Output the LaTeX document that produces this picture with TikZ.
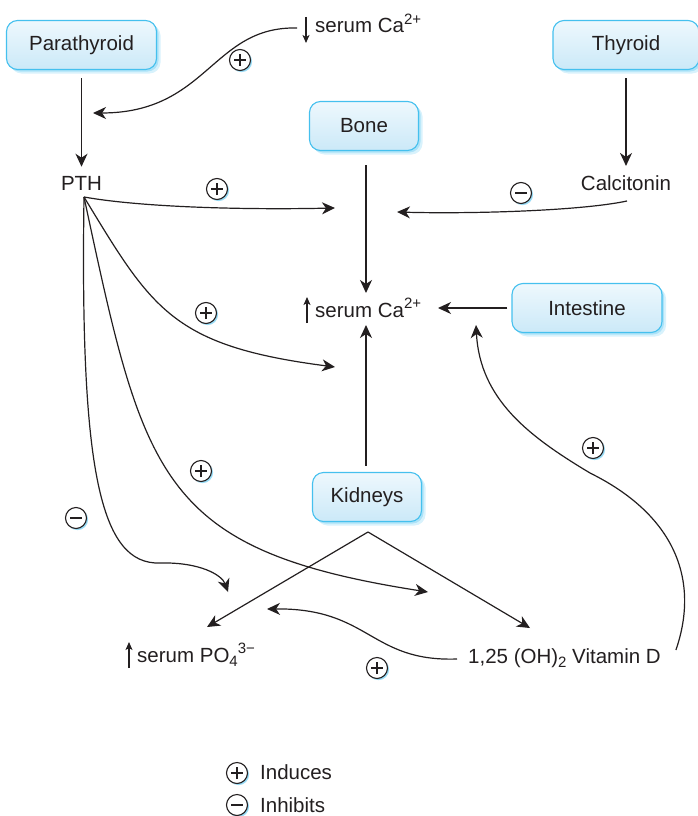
\documentclass[tikz,border=0pt]{standalone}
\usepackage{fontspec}
\setmainfont{Liberation Sans}
\usetikzlibrary{arrows.meta,shadows,calc}

\definecolor{ink}{HTML}{231F20}
\definecolor{boxline}{HTML}{45C0EE}
\definecolor{boxtop}{HTML}{EEF8FD}
\definecolor{boxbot}{HTML}{CBE9F8}
\definecolor{glow}{HTML}{7FD3F4}
\newcommand\lblfont{\fontsize{20.5}{24}\selectfont}
\newcommand\upidx[1]{\raisebox{8.5pt}{\fontsize{15}{15}\selectfont #1}}
\newcommand\lowidx[1]{\raisebox{-4pt}{\fontsize{15}{15}\selectfont #1}}

\begin{document}
\begin{tikzpicture}[x=1pt,y=-1pt,
  organ/.style={draw=boxline, line width=1.1pt, rounded corners=11pt,
    top color=boxtop, bottom color=boxbot, minimum height=49pt,
    text=ink, font=\lblfont, inner sep=0pt,
    drop shadow={shadow xshift=4pt,shadow yshift=-4pt,fill=glow,opacity=.3},
    drop shadow={shadow xshift=2pt,shadow yshift=-2pt,fill=glow,opacity=.5}},
  lbl/.style={font=\lblfont, text=ink, inner sep=0pt, anchor=base west},
  sgn/.style={circle, draw=ink, line width=1.1pt, fill=white,
    minimum size=21pt, inner sep=0pt,
    drop shadow={shadow xshift=1.6pt,shadow yshift=-1.6pt,fill=glow,opacity=.8}},
  plus/.style={sgn, path picture={
    \draw[ink, line width=1.1pt]
      ([xshift=-6pt]path picture bounding box.center) -- ([xshift=6pt]path picture bounding box.center)
      ([yshift=-6pt]path picture bounding box.center) -- ([yshift=6pt]path picture bounding box.center);}},
  minus/.style={sgn, path picture={
    \draw[ink, line width=1.1pt]
      ([xshift=-6pt]path picture bounding box.center) -- ([xshift=6pt]path picture bounding box.center);}},
  arr/.style={draw=ink, line width=1.2pt, -{Stealth[length=13pt,width=12pt,inset=4pt]}},
  tinyarr/.style={draw=ink, line width=1.4pt, -{Stealth[length=8pt,width=7pt,inset=2pt]}},
]
\useasboundingbox (0,0) rectangle (698,816);

% organs
\node[organ, minimum width=150pt] (para)  at (81.5,45) {Parathyroid};
\node[organ, minimum width=146pt] (thy)   at (626,45)  {Thyroid};
\node[organ, minimum width=109pt] (bone)  at (364,126) {Bone};
\node[organ, minimum width=150pt] (intes) at (587,308) {Intestine};
\node[organ, minimum width=109pt] (kid)   at (367,497) {Kidneys};

% hormones and serum levels
\node[lbl, anchor=base] (pth)  at (81.5,190) {PTH};
\node[lbl, anchor=base] (calc) at (626,190)  {Calcitonin};
\node[lbl] (calo) at (315,33)  {serum Ca\upidx{2+}};
\node[lbl] (cahi) at (315,317) {serum Ca\upidx{2+}};
\node[lbl] (po4)  at (137,662) {serum PO\lowidx{4}\upidx{3−}};
\node[lbl] (vitd) at (468,663) {1,25 (OH)\lowidx{2} Vitamin D};

% rise / fall markers in front of the serum levels
\draw[tinyarr] ($(calo.base west)+(-9,-16)$) -- ($(calo.base west)+(-9,10)$);
\draw[tinyarr] ($(cahi.base west)+(-8,6)$) -- ($(cahi.base west)+(-8,-20)$);
\draw[tinyarr] ($(po4.base west)+(-8,6)$) -- ($(po4.base west)+(-8,-20)$);

% connector end points
\coordinate (fan)    at (84,197);
\coordinate (paraIn) at (93,113);
\coordinate (caUL)   at (335,208);
\coordinate (caLL)   at (335,367);
\coordinate (caUR)   at (397,212);
\coordinate (caN)    at (366,293);
\coordinate (caS)    at (366,325);
\coordinate (caE)    at (438,308);
\coordinate (intIn)  at (476,325);
\coordinate (kV)     at (368,532);
\coordinate (poN)    at (207,627);
\coordinate (vdN)    at (530,628);
\coordinate (poA)    at (228,592);
\coordinate (poB)    at (428,592);
\coordinate (poC)    at (267,609);

% straight links
\draw[arr, shorten <=8pt, shorten >=9pt] (para.south) -- (pth.north);
\draw[arr, shorten <=8pt, shorten >=9pt] (thy.south) -- (calc.north);
\draw[arr, shorten <=14pt] (bone.south -| caN) -- (caN);
\draw[arr, shorten <=6pt] (kid.north -| caS) -- (caS);
\draw[arr, shorten <=4pt] (intes.west) -- (caE);
\draw[arr] (kV) -- (poN);
\draw[arr] (kV) -- (vdN);

% curved links
\draw[arr] ($(calo.base west)+(-18,-5)$) .. controls (212,26) and (208,113) .. (paraIn);
\draw[arr] (fan) .. controls (140,207) and (240,210) .. (caUL);
\draw[arr] (fan) .. controls (152,309) and (172,346) .. (caLL);
\draw[arr] (fan) .. controls (144,477) and (158,550) .. (poB);
\draw[arr] (fan) .. controls (80,470) and (100,565) .. (160,563)
                 .. controls (200,562) and (222,575) .. (poA);
\draw[arr] ($(calc.base)+(1,11)$) .. controls (580,211) and (470,214) .. (caUR);
\draw[arr] ($(vitd.base east)+(15,-13)$) .. controls (700,580) and (675,515) .. (590,473)
                 .. controls (530,437) and (480,400) .. (intIn);
\draw[arr] ($(vitd.base west)+(-11,-4)$) .. controls (370,662) and (370,608) .. (poC);

% effect signs
\node[plus]  (s1) at (240,60)  {};
\node[plus]  (s2) at (217,189) {};
\node[minus] (s3) at (521,193) {};
\node[plus]  (s4) at (206,313) {};
\node[plus]  (s5) at (201,471) {};
\node[minus] (s6) at (76,518)  {};
\node[plus]  (s7) at (593,448) {};
\node[plus]  (s8) at (377,668) {};

% key
\node[plus]  (keyP)  at (237,773) {};
\node[lbl]   (keyPt) at (260,779) {Induces};
\node[minus] (keyM)  at (237,805) {};
\node[lbl]   (keyMt) at (260,812) {Inhibits};
\end{tikzpicture}
\end{document}
